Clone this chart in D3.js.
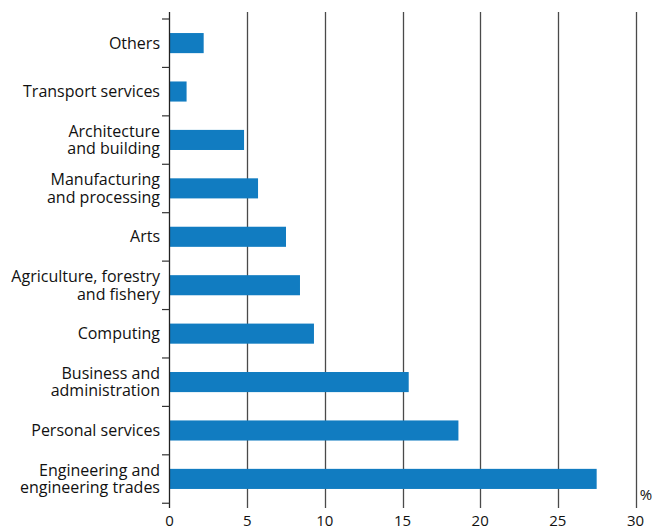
<!DOCTYPE html>
<html><head><meta charset="utf-8">
<script src="https://cdn.jsdelivr.net/npm/d3@7"></script>
<style>body{margin:0;background:#fff}svg{display:block}text{font-family:"Open Sans","Liberation Sans",sans-serif;fill:#111}</style>
</head><body><svg id="c" width="654" height="527"></svg>
<script>
const categories = [
  ["Others"],
  ["Transport services"],
  ["Architecture","and building"],
  ["Manufacturing","and processing"],
  ["Arts"],
  ["Agriculture, forestry","and fishery"],
  ["Computing"],
  ["Business and","administration"],
  ["Personal services"],
  ["Engineering and","engineering trades"]
];
const values = [2.2, 1.1, 4.8, 5.7, 7.5, 8.4, 9.3, 15.4, 18.6, 27.5];
const xTicks = [0, 5, 10, 15, 20, 25, 30];
const unitLabel = "%";

const svg = d3.select("#c");
const x = d3.scaleLinear().domain([0, 30]).range([169.5, 635.5]);
const keys = categories.map((c,i)=>i);
const y = d3.scaleBand().domain(keys).range([19, 503]).paddingInner(0.585).paddingOuter(0.29);
const step = y.step();

// gridlines
svg.append("g").selectAll("line").data(xTicks.slice(1)).join("line")
  .attr("x1", d=>Math.round(x(d))+0.5).attr("x2", d=>Math.round(x(d))+0.5)
  .attr("y1", 12).attr("y2", 508)
  .attr("stroke", "#4a4a4a").attr("stroke-width", 1.3);

// bars
svg.append("g").selectAll("rect").data(values).join("rect")
  .attr("x", x(0)).attr("y", (d,i)=>y(i))
  .attr("width", d=>x(d)-x(0)).attr("height", y.bandwidth())
  .attr("fill", "#117cc1");

// y axis line
svg.append("line").attr("x1", 169.5).attr("x2", 169.5).attr("y1", 12).attr("y2", 508)
  .attr("stroke", "#222").attr("stroke-width", 1.3);
// y ticks at band boundaries
const bounds = d3.range(categories.length + 1).map(i => 19 + i*step);
svg.append("g").selectAll("line").data(bounds).join("line")
  .attr("x1", 162).attr("x2", 169.5).attr("y1", d=>d).attr("y2", d=>d)
  .attr("stroke", "#333").attr("stroke-width", 1.2);

// category labels (one text element per line)
const lh = 17.6;
const lines = [];
categories.forEach((d,i)=>{
  const n = d.length;
  const c = y(i) + y.bandwidth()/2;
  d.forEach((s,j)=>lines.push({s, y: c - (n-1)/2*lh + j*lh + 5.5}));
});
svg.append("g").selectAll("text").data(lines).join("text")
  .attr("text-anchor", "end").attr("font-size", 16)
  .attr("x", 160).attr("y", d=>d.y).text(d=>d.s);

// x tick labels
svg.append("g").selectAll("text").data(xTicks).join("text")
  .attr("x", d=>x(d)).attr("y", 526).attr("text-anchor","middle")
  .attr("font-size", 15).text(d=>d);

svg.append("text").attr("x", 646).attr("y", 500).attr("text-anchor","middle")
  .attr("font-size", 15).text(unitLabel);
</script></body></html>
